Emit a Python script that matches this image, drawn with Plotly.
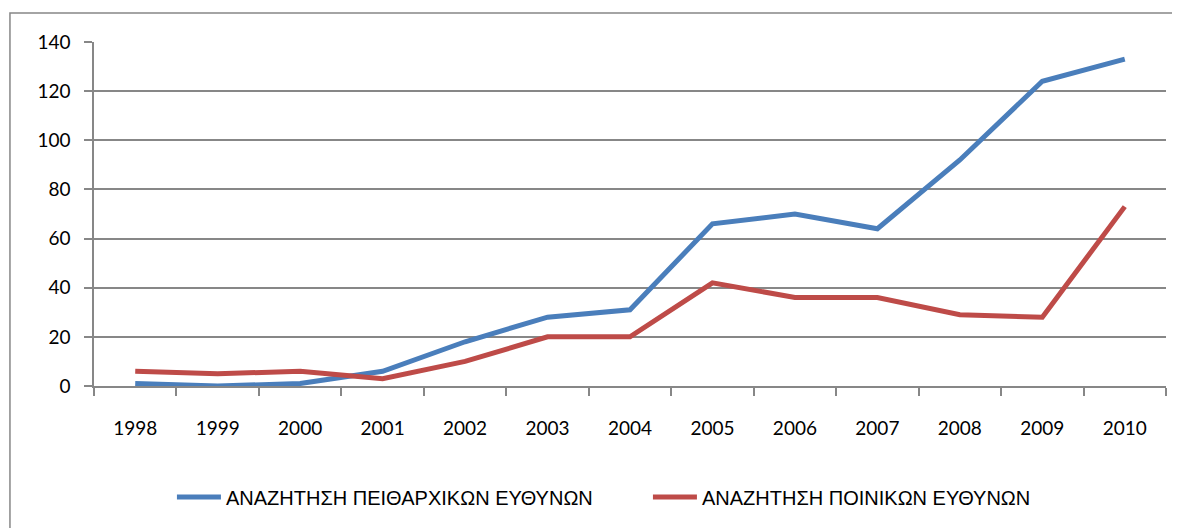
import plotly.graph_objects as go

years = ["1998", "1999", "2000", "2001", "2002", "2003", "2004",
         "2005", "2006", "2007", "2008", "2009", "2010"]
disciplinary = [1, 0, 1, 6, 18, 28, 31, 66, 70, 64, 92, 124, 133]
criminal = [6, 5, 6, 3, 10, 20, 20, 42, 36, 36, 29, 28, 73]
y_ticks = [0, 20, 40, 60, 80, 100, 120, 140]

name_disc = "ΑΝΑΖΗΤΗΣΗ ΠΕΙΘΑΡΧΙΚΩΝ ΕΥΘΥΝΩΝ"
name_crim = "ΑΝΑΖΗΤΗΣΗ ΠΟΙΝΙΚΩΝ ΕΥΘΥΝΩΝ"

BLUE = "#4A7EBB"
RED = "#BE4B48"
GREY = "#878787"
TICK_FONT = dict(family="Lato, Liberation Sans, sans-serif", size=19, color="#000000")

fig = go.Figure()
fig.add_trace(go.Scatter(x=years, y=disciplinary, mode="lines", name=name_disc,
                         line=dict(color=BLUE, width=5)))
fig.add_trace(go.Scatter(x=years, y=criminal, mode="lines", name=name_crim,
                         line=dict(color=RED, width=5)))

fig.update_layout(
    width=1180, height=528,
    margin=dict(l=86, r=22, t=34, b=150, autoexpand=False),
    paper_bgcolor="white", plot_bgcolor="white",
    showlegend=True,
    legend=dict(orientation="h", x=0.0727, xanchor="left", y=-0.3227, yanchor="middle",
                font=dict(family="Liberation Sans Narrow, Arial Narrow, sans-serif", size=20, color="#000000"),
                itemwidth=44, entrywidth=417, entrywidthmode="pixels"),
    shapes=[dict(type="rect", xref="paper", yref="paper",
                 x0=-0.0784, x1=1.05, y0=1.0843, y1=-0.7,
                 line=dict(color=GREY, width=1.5), fillcolor="rgba(0,0,0,0)", layer="below")],
)

fig.update_xaxes(type="category", range=[-0.5, 12.5], tickson="boundaries", ticks="outside", ticklen=8,
                 tickwidth=1.5, tickcolor=GREY, showline=True, linecolor=GREY, linewidth=1.5,
                 showgrid=False, tickfont=TICK_FONT, ticklabelstandoff=24, fixedrange=True)
fig.update_yaxes(range=[0, 140], tickvals=y_ticks, ticks="outside", ticklen=8,
                 tickwidth=1.5, tickcolor=GREY, showline=True, linecolor=GREY, linewidth=1.5,
                 showgrid=True, gridcolor=GREY, gridwidth=1.5, zeroline=False,
                 tickfont=TICK_FONT, ticklabelstandoff=10, fixedrange=True)

fig.write_html("out.html")
